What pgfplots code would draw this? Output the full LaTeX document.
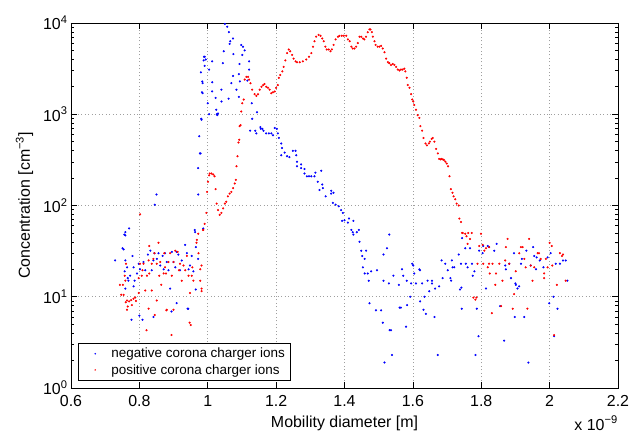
\documentclass[border=0pt]{standalone}
\usepackage{pgfplots}
\pgfplotsset{compat=1.18}
\usepackage{fontspec}
\setmainfont{Liberation Sans}
\begin{document}
\begin{tikzpicture}
\begin{axis}[
  scale only axis, width=547bp, height=365bp,
  xmin=0.6, xmax=2.2, ymin=1, ymax=10000, ymode=log,
  xtick={0.6,0.8,1,1.2,1.4,1.6,1.8,2,2.2},
  xticklabels={0.6,0.8,1,1.2,1.4,1.6,1.8,2,2.2},
  ytick={1,10,100,1000,10000},
  yticklabels={10\textsuperscript{0},10\textsuperscript{1},10\textsuperscript{2},10\textsuperscript{3},10\textsuperscript{4}},
  /pgf/number format/assume math mode=true,
  tick label style={font=\fontsize{16}{18}\selectfont, black},
  xticklabel style={yshift=-4bp},
  label style={font=\fontsize{16}{18}\selectfont},
  xlabel={Mobility diameter [m]},
  ylabel={Concentration [cm\textsuperscript{−3}]},
  xlabel style={yshift=-2bp},
  ylabel style={yshift=3bp},
  tick align=inside,
  major tick length=6bp, minor tick length=3bp,
  tick style={black, line width=0.6bp},
  axis line style={black, line width=0.9bp},
  grid=major,
  major grid style={gray!75, line width=0.6bp, dash pattern=on 1bp off 2.5bp},
  legend style={at={(0.0128,0.0192)}, anchor=south west, draw=black, line width=0.8bp,
    font=\fontsize{13.5}{15}\selectfont, cells={anchor=west}, row sep=1bp,
    inner ysep=3bp, inner xsep=4bp},
  legend image code/.code={\path[draw=none, fill=none] (0cm,0cm) -- (0.95cm,0cm);
    \fill[#1, draw=none] (0.45cm,0cm) circle (0.85bp);},
  legend cell align=left,
]
\coordinate (ll) at (rel axis cs:0,0);
\coordinate (ur) at (rel axis cs:1,1);
\addplot[only marks, mark=*, mark size=0.85bp, blue] table {
x y
0.729 25
0.751 34
0.754 33
0.756 48
0.757 19
0.759 51
0.759 47
0.759 25
0.759 12.3
0.764 21
0.766 16
0.768 15
0.770 56
0.773 17
0.777 5.6
0.780 28
0.783 21
0.783 13
0.786 15
0.793 18
0.798 23
0.800 6.2
0.802 20
0.809 5.6
0.812 24
0.817 19.5
0.825 29
0.832 32
0.836 19.5
0.841 25
0.841 6.0
0.844 30
0.845 102
0.850 132
0.851 26
0.856 30
0.861 22
0.868 28
0.871 20
0.875 30
0.880 24
0.885 19.5
0.890 12.3
0.894 6.9
0.895 31
0.900 24
0.905 21
0.909 31
0.909 8.5
0.914 29
0.919 19.5
0.924 25
0.934 37
0.939 30
0.941 7.4
0.943 7.4
0.944 20
0.948 22
0.953 28
0.958 19
0.962 54
0.963 51
0.965 35
0.965 12
0.972 132
0.972 26
0.972 257
0.975 575
0.977 372
0.979 372
0.980 2880
0.981 891
0.982 871
0.983 1740
0.984 2290
0.985 2190
0.985 1700
0.987 56
0.988 3890
0.989 4270
0.991 4270
0.991 3390
0.994 3980
1.000 1320
1.004 1000
1.004 3090
1.013 3800
1.013 2240
1.013 1780
1.023 1510
1.025 1120
1.026 1000
1.028 980
1.030 1020
1.040 1860
1.040 1380
1.044 3630
1.047 4900
1.050 9770
1.057 9120
1.061 1480
1.062 7940
1.064 5890
1.066 6310
1.069 2190
1.074 6760
1.074 2630
1.075 4570
1.084 1860
1.091 2750
1.091 1550
1.093 3550
1.094 2290
1.098 5750
1.101 4470
1.103 5500
1.108 5010
1.116 2340
1.121 3800
1.121 3090
1.124 660
1.129 1320
1.130 891
1.139 660
1.142 617
1.144 1050
1.154 724
1.155 692
1.160 692
1.163 660
1.171 617
1.179 617
1.186 617
1.191 589
1.196 708
1.202 692
1.205 617
1.208 550
1.215 479
1.215 355
1.217 427
1.225 380
1.232 347
1.239 339
1.249 398
1.257 398
1.259 355
1.261 302
1.261 269
1.273 282
1.273 257
1.283 251
1.283 224
1.290 209
1.296 209
1.303 209
1.312 209
1.315 229
1.322 182
1.327 148
1.332 240
1.335 170
1.337 155
1.345 126
1.361 145
1.361 135
1.366 107
1.368 138
1.374 102
1.383 98
1.390 89
1.393 68
1.395 83
1.400 69
1.410 65
1.413 72
1.420 54
1.424 51
1.426 68
1.426 48
1.436 51
1.442 54
1.444 40
1.449 32
1.452 28
1.454 21
1.459 26
1.459 18
1.463 32
1.468 18
1.471 15
1.473 8.5
1.478 19
1.492 7.1
1.495 19.5
1.507 7.1
1.512 5.2
1.514 29
1.514 15
1.517 1.9
1.524 34
1.530 14
1.531 48
1.532 4.3
1.536 4.3
1.539 2.3
1.543 17
1.559 13.5
1.561 7.6
1.565 7.6
1.568 20
1.572 17
1.580 4.7
1.582 15
1.583 8.1
1.592 10
1.595 14
1.598 23
1.601 22
1.604 18
1.609 14
1.619 20
1.621 19.5
1.621 8.9
1.627 14
1.631 7.2
1.634 10
1.638 6.5
1.643 15
1.648 11.5
1.656 15
1.656 14
1.663 6.0
1.665 12.3
1.673 2.3
1.677 13
1.684 25
1.687 16
1.695 23
1.702 19.5
1.710 16
1.712 15
1.714 25
1.716 21
1.721 21
1.734 29
1.738 12
1.741 23
1.742 12.6
1.743 7.4
1.744 44
1.753 34
1.755 23
1.760 21
1.767 34
1.773 23
1.775 17
1.780 19
1.783 2.3
1.787 7.4
1.792 3.7
1.794 32
1.804 30
1.806 36
1.814 12.3
1.819 36
1.823 35
1.838 32
1.845 38
1.855 7.9
1.867 3.3
1.870 22
1.872 20
1.882 23
1.887 16
1.896 30
1.898 6.0
1.900 14
1.901 13.5
1.906 12.3
1.911 13
1.916 23
1.919 26
1.926 6.0
1.932 32
1.938 1.9
1.945 22
1.952 35
1.955 28
1.960 20
1.962 27
1.971 25
1.982 21
1.994 27
1.999 8.5
2.003 30
2.011 10
2.013 3.7
2.018 23
2.023 7.4
2.030 23
2.039 25
2.047 25
2.052 15
};
\addlegendentry{negative corona charger ions}
\addplot[only marks, mark=*, mark size=0.85bp, red] table {
x y
0.743 13.5
0.747 10.5
0.752 13.5
0.754 10.5
0.757 17
0.759 15
0.760 8.7
0.761 23
0.764 9.1
0.764 7.2
0.766 7.8
0.770 8.9
0.776 9.2
0.778 8.1
0.783 9.5
0.788 9.8
0.790 9.0
0.798 11
0.798 16
0.802 80
0.802 23
0.807 17
0.809 19.5
0.812 23
0.817 11.7
0.821 4.3
0.822 17
0.827 25
0.827 7.4
0.829 36
0.829 18
0.836 23
0.836 11.7
0.841 26
0.844 30
0.845 6.3
0.851 23
0.851 9.1
0.856 39
0.858 17
0.861 24
0.864 13.5
0.871 18
0.873 30
0.875 21
0.878 18
0.879 7.1
0.880 7.2
0.885 24
0.890 30
0.894 3.8
0.895 17
0.900 24
0.900 7.2
0.905 32
0.912 31
0.916 19.5
0.919 23
0.924 15
0.929 22
0.934 19.5
0.939 28
0.944 17
0.947 5.2
0.948 11
0.950 4.9
0.953 17
0.955 21
0.958 15
0.967 39
0.968 42
0.972 49
0.973 30
0.978 20
0.978 15
0.982 22
0.982 11.5
0.982 12.3
0.986 54
0.987 54
0.991 63
0.996 83
0.998 141
1.001 182
1.004 214
1.006 224
1.011 224
1.016 219
1.020 209
1.023 151
1.026 105
1.030 89
1.035 79
1.040 83
1.045 93
1.050 105
1.054 110
1.059 126
1.064 135
1.069 141
1.074 155
1.079 174
1.082 191
1.084 269
1.087 347
1.090 490
1.092 525
1.093 741
1.096 759
1.098 1070
1.101 1320
1.105 1450
1.108 2400
1.113 2570
1.118 2570
1.121 2400
1.125 2190
1.130 1860
1.137 1660
1.142 1590
1.147 1660
1.152 1860
1.157 2000
1.162 2090
1.166 2140
1.171 2000
1.176 1950
1.181 1860
1.186 1700
1.191 1740
1.196 1780
1.200 1950
1.205 2090
1.208 2510
1.212 2690
1.218 2950
1.222 3310
1.227 3890
1.232 4680
1.237 5130
1.241 4900
1.247 4470
1.251 4070
1.257 3800
1.261 3720
1.269 3720
1.278 3800
1.288 3980
1.296 4270
1.303 4680
1.308 5500
1.312 6310
1.317 7080
1.324 7410
1.330 7240
1.335 6760
1.339 6310
1.344 5500
1.348 5130
1.354 5130
1.359 4900
1.363 5130
1.368 5750
1.374 6610
1.381 7080
1.385 7240
1.392 7240
1.398 7240
1.405 7240
1.410 6610
1.415 6310
1.420 5500
1.424 5250
1.429 5250
1.434 5500
1.439 6030
1.444 7080
1.449 7080
1.454 6760
1.458 6610
1.463 7080
1.468 7940
1.473 8510
1.476 8510
1.480 7940
1.483 7080
1.488 6310
1.491 5750
1.497 5500
1.502 5500
1.507 5620
1.512 5250
1.517 4790
1.522 4070
1.527 3720
1.531 3630
1.536 3470
1.541 3550
1.546 3470
1.551 3310
1.556 3090
1.561 3020
1.565 3090
1.570 3090
1.575 3160
1.578 2950
1.582 2510
1.585 2090
1.590 1950
1.595 1660
1.598 1450
1.601 1380
1.604 1260
1.609 1120
1.614 977
1.619 912
1.622 741
1.627 661
1.631 550
1.637 479
1.641 457
1.647 479
1.650 501
1.655 537
1.658 550
1.663 501
1.668 417
1.673 372
1.677 324
1.681 320
1.684 324
1.688 320
1.691 316
1.695 302
1.699 288
1.703 269
1.707 209
1.711 151
1.716 138
1.719 126
1.724 117
1.728 105
1.734 100
1.736 72
1.741 66
1.744 50
1.746 50
1.753 49
1.757 46
1.760 38
1.762 50
1.767 43
1.772 50
1.777 9.8
1.783 9.3
1.786 9.8
1.789 23
1.794 36
1.799 49
1.804 37
1.806 23
1.809 32
1.814 34
1.819 21
1.823 35
1.823 23
1.825 18
1.831 6.6
1.833 23
1.841 13.5
1.843 18
1.853 23
1.858 7.9
1.862 15
1.870 25
1.872 35
1.877 43
1.882 23
1.892 7.4
1.896 10.7
1.901 19
1.911 30
1.916 35
1.921 35
1.926 26
1.930 21
1.935 7.4
1.940 43
1.945 22
1.950 15
1.955 21
1.965 30
1.969 30
1.974 26
1.984 18
1.984 16
1.989 26
1.994 21
2.000 39
2.006 36
2.008 22
2.013 3.8
2.021 13.5
2.030 30
2.036 28
2.039 29
2.047 15
};
\addlegendentry{positive corona charger ions}
\end{axis}
\node[anchor=base east, font=\fontsize{16}{18}\selectfont, inner sep=0pt] at ([yshift=-42bp]ll -| ur) {x 10\textsuperscript{−9}};
\pgfresetboundingbox
\path ([shift={(-71bp,-45bp)}]ll) rectangle ([shift={(16bp,23bp)}]ur);
\end{tikzpicture}
\end{document}
